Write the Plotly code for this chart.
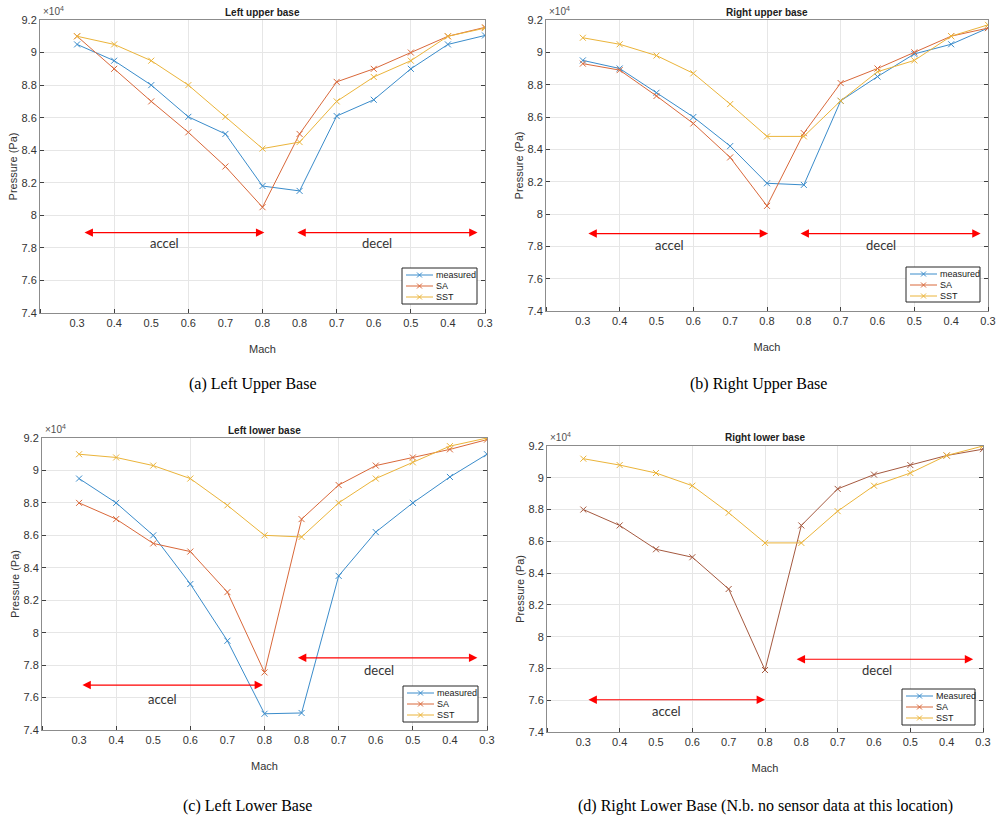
import plotly.graph_objects as go

# ---------------- data (pressure in units of 1e4 Pa) ----------------
mach_labels = ["0.3", "0.4", "0.5", "0.6", "0.7", "0.8", "0.8", "0.7", "0.6", "0.5", "0.4", "0.3"]
steps = list(range(1, 13))
y_ticks = [7.4, 7.6, 7.8, 8.0, 8.2, 8.4, 8.6, 8.8, 9.0, 9.2]
y_tick_text = ["7.4", "7.6", "7.8", "8", "8.2", "8.4", "8.6", "8.8", "9", "9.2"]

lu_measured = [9.05, 8.95, 8.80, 8.605, 8.50, 8.18, 8.15, 8.61, 8.71, 8.90, 9.05, 9.105]
lu_sa = [9.10, 8.90, 8.70, 8.51, 8.30, 8.05, 8.50, 8.82, 8.90, 9.00, 9.10, 9.155]
lu_sst = [9.10, 9.05, 8.95, 8.80, 8.605, 8.41, 8.45, 8.70, 8.85, 8.95, 9.10, 9.15]

ru_measured = [8.95, 8.90, 8.75, 8.60, 8.42, 8.19, 8.18, 8.70, 8.85, 8.99, 9.05, 9.15]
ru_sa = [8.93, 8.89, 8.73, 8.56, 8.35, 8.05, 8.50, 8.81, 8.90, 9.00, 9.10, 9.15]
ru_sst = [9.09, 9.05, 8.98, 8.87, 8.68, 8.48, 8.48, 8.70, 8.88, 8.95, 9.10, 9.17]

ll_measured = [8.95, 8.80, 8.60, 8.30, 7.95, 7.50, 7.505, 8.35, 8.62, 8.80, 8.96, 9.10]
ll_sa = [8.80, 8.70, 8.55, 8.50, 8.25, 7.755, 8.70, 8.91, 9.03, 9.08, 9.13, 9.19]
ll_sst = [9.10, 9.08, 9.03, 8.95, 8.785, 8.60, 8.59, 8.80, 8.95, 9.05, 9.15, 9.20]

rl_sa = [8.80, 8.70, 8.55, 8.50, 8.30, 7.79, 8.70, 8.93, 9.02, 9.08, 9.14, 9.18]
rl_sst = [9.12, 9.08, 9.03, 8.95, 8.78, 8.59, 8.59, 8.79, 8.95, 9.03, 9.14, 9.20]

titles = ["Left upper base", "Right upper base", "Left lower base", "Right lower base"]
captions = ["(a) Left Upper Base", "(b) Right Upper Base", "(c) Left Lower Base",
            "(d) Right Lower Base (N.b. no sensor data at this location)"]
legend_labels = [["measured", "SA", "SST"], ["measured", "SA", "SST"],
                 ["measured", "SA", "SST"], ["Measured", "SA", "SST"]]

# arrows: (x_start, x_end, y, text_x, text_y) per panel, in data units
accel_arrows = [(1.16, 6.05, 7.894, 3.35, 7.83), (1.11, 6.03, 7.879, 3.34, 7.81),
                (1.05, 5.96, 7.677, 3.26, 7.59), (1.10, 6.00, 7.603, 3.30, 7.53)]
decel_arrows = [(6.90, 11.80, 7.894, 9.10, 7.83), (6.87, 11.80, 7.879, 9.10, 7.81),
                (6.86, 11.74, 7.845, 9.08, 7.77), (6.83, 11.73, 7.858, 9.08, 7.79)]

# ---------------- styling ----------------
W, H = 1001, 821
C_MEAS = "#3a8ccb"
C_SA = "#d9683a"
C_SST = "#ebb43a"
C_SA_D = "#a5593f"
SERIES_COLORS = [C_MEAS, C_SA, C_SST]
TICK_FONT = dict(family="Liberation Sans Narrow, Arial Narrow, Liberation Sans, sans-serif", size=11, color="#333333")

# panel pixel boxes: (left, right, top, bottom)
boxes = [(40, 485, 20, 313), (546, 988, 20, 311), (42, 487, 438, 730), (547, 983, 446, 732)]
# legend boxes: (left, right, top, bottom)
legend_boxes = [(402, 477, 268, 304), (906, 980, 267, 302), (403, 478, 686, 722), (902, 975, 689, 725)]


def px(x):
    return x / W


def py(y):
    return 1 - y / H


fig = go.Figure()

series = [
    [("measured", lu_measured, C_MEAS), ("SA", lu_sa, C_SA), ("SST", lu_sst, C_SST)],
    [("measured", ru_measured, C_MEAS), ("SA", ru_sa, C_SA), ("SST", ru_sst, C_SST)],
    [("measured", ll_measured, C_MEAS), ("SA", ll_sa, C_SA), ("SST", ll_sst, C_SST)],
    [("SA", rl_sa, C_SA_D), ("SST", rl_sst, C_SST)],
]

for i in range(4):
    xa = "x" if i == 0 else f"x{i+1}"
    ya = "y" if i == 0 else f"y{i+1}"
    for name, vals, col in series[i]:
        fig.add_trace(go.Scatter(
            x=steps, y=vals, name=name, mode="lines+markers", showlegend=False,
            line=dict(color=col, width=1),
            marker=dict(symbol="x-thin", size=6, line=dict(color=col, width=1)),
            xaxis=xa, yaxis=ya))

layout = dict(
    width=W, height=H, margin=dict(l=0, r=0, t=0, b=0, autoexpand=False),
    paper_bgcolor="white", plot_bgcolor="white", showlegend=False,
)
annotations = []
shapes = []

for i, (l, r, t, b) in enumerate(boxes):
    xk = "xaxis" if i == 0 else f"xaxis{i+1}"
    yk = "yaxis" if i == 0 else f"yaxis{i+1}"
    xr = "x" if i == 0 else f"x{i+1}"
    yr = "y" if i == 0 else f"y{i+1}"
    layout[xk] = dict(
        domain=[px(l), px(r)], anchor=yr, range=[0, 12],
        tickmode="array", tickvals=steps, ticktext=mach_labels, ticks="",
        showgrid=False, zeroline=False, tickfont=TICK_FONT, automargin=False,
        showline=True, linecolor="#8c8c8c", linewidth=1, mirror=True,
        minor=dict(tickmode="linear", tick0=0, dtick=2, showgrid=True, gridcolor="#e6e6e6",
                   ticks="inside", ticklen=4, tickcolor="#404040"),
        title=dict(text="Mach", font=TICK_FONT, standoff=17),
    )
    layout[yk] = dict(
        domain=[py(b), py(t)], anchor=xr, range=[7.4, 9.2],
        tickmode="array", tickvals=y_ticks, ticktext=y_tick_text,
        ticks="inside", ticklen=4, tickcolor="#404040", automargin=False,
        showgrid=True, gridcolor="#e6e6e6", zeroline=False, tickfont=TICK_FONT,
        showline=True, linecolor="#8c8c8c", linewidth=1, mirror="allticks",
        title=dict(text="Pressure (Pa)", font=TICK_FONT, standoff=1),
    )
    # title
    annotations.append(dict(text=f"<b>{titles[i]}</b>", x=px((l + r) / 2), y=py(t - 8),
                            xref="paper", yref="paper", showarrow=False,
                            xanchor="center", yanchor="middle",
                            font=dict(family="Liberation Sans, Arial", size=10, color="#202020")))
    # exponent label
    annotations.append(dict(text="×10<sup>4</sup>", x=px(l + 1), y=py(t - 1),
                            xref="paper", yref="paper", showarrow=False,
                            xanchor="left", yanchor="bottom",
                            font=dict(family="Liberation Sans, Arial", size=10, color="#505050")))
    # caption
    cap_y = 384 if i < 2 else 806
    cap_x = [253, 758, 247, 765][i]
    annotations.append(dict(text=captions[i], x=px(cap_x), y=py(cap_y), xref="paper", yref="paper",
                            showarrow=False, xanchor="center", yanchor="middle",
                            font=dict(family="Liberation Serif, Times New Roman, serif", size=16, color="black")))
    # arrows + labels
    for (xs, xe, yy, tx, ty), lab in [(accel_arrows[i], "accel"), (decel_arrows[i], "decel")]:
        annotations.append(dict(x=xe, y=yy, ax=xs, ay=yy, xref=xr, yref=yr, axref=xr, ayref=yr,
                                text="", showarrow=True, arrowside="end+start", arrowhead=2,
                                arrowsize=1.4, arrowwidth=1.2, arrowcolor="#ff0000"))
        annotations.append(dict(x=tx, y=ty, xref=xr, yref=yr, text=lab, showarrow=False,
                                xanchor="center", yanchor="middle",
                                font=dict(family="Lato, Open Sans, sans-serif", size=13, color="#333333")))
    # legend box (drawn with shapes + text)
    ll, lr, lt, lb = legend_boxes[i]
    shapes.append(dict(type="rect", xref="paper", yref="paper",
                       x0=px(ll), x1=px(lr), y0=py(lb), y1=py(lt),
                       line=dict(color="#262626", width=1), fillcolor="white", layer="above"))
    for k, (lab, col) in enumerate(zip(legend_labels[i], SERIES_COLORS)):
        yy = lt + 7 + k * 11
        shapes.append(dict(type="line", xref="paper", yref="paper",
                           x0=px(ll + 4), x1=px(ll + 31), y0=py(yy), y1=py(yy),
                           line=dict(color=col, width=1), layer="above"))
        mx = ll + 17.5
        d = 2.5
        shapes.append(dict(type="path", xref="paper", yref="paper", layer="above",
                           path=(f"M {px(mx-d)},{py(yy-d)} L {px(mx+d)},{py(yy+d)} "
                                 f"M {px(mx-d)},{py(yy+d)} L {px(mx+d)},{py(yy-d)}"),
                           line=dict(color=col, width=1)))
        annotations.append(dict(text=lab, x=px(ll + 32), y=py(yy), xref="paper", yref="paper",
                                showarrow=False, xanchor="left", yanchor="middle",
                                font=dict(family="Liberation Sans, Arial", size=9, color="#202020")))

layout["annotations"] = annotations
layout["shapes"] = shapes
fig.update_layout(**layout)

fig.write_html("out.html")
